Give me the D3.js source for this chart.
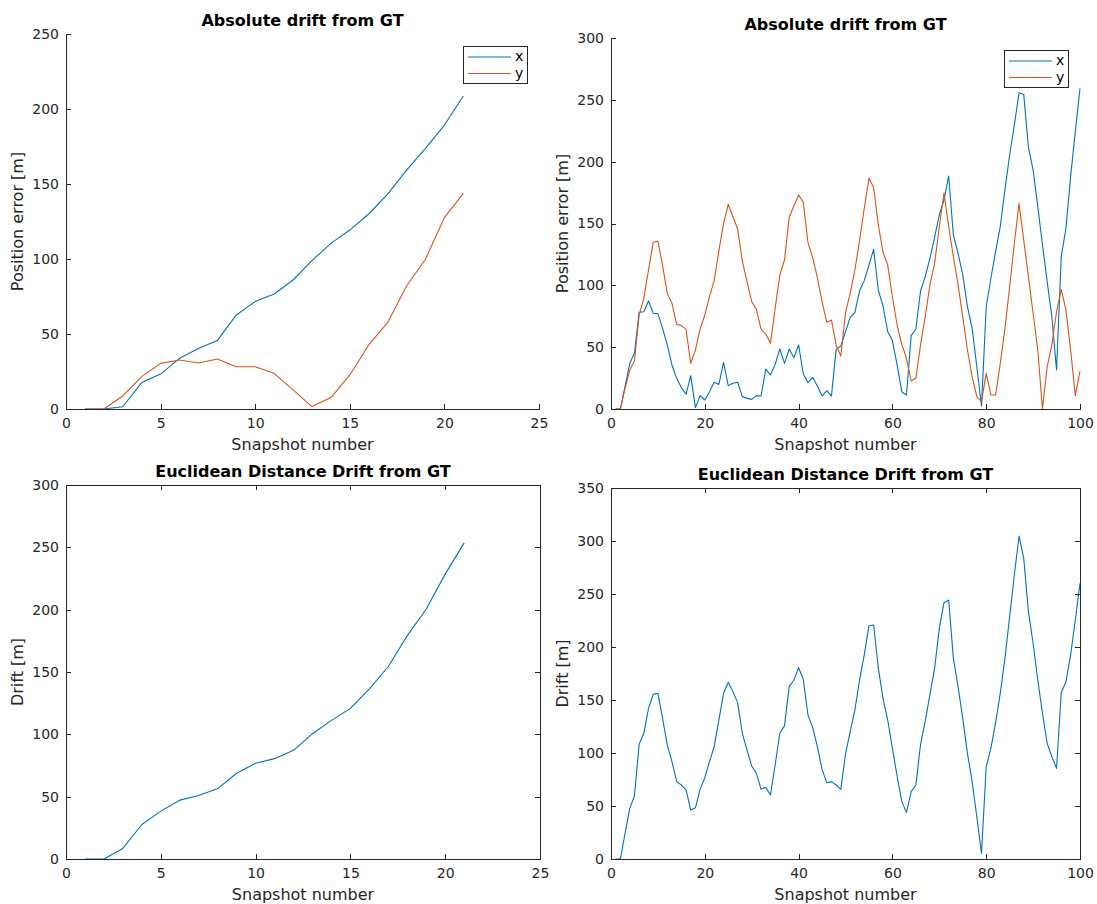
<!DOCTYPE html>
<html>
<head>
<meta charset="utf-8">
<script src="https://cdn.jsdelivr.net/npm/d3@7"></script>
<style>
  html, body { margin: 0; padding: 0; background: #fff; }
  svg { display: block; font-family: "DejaVu Sans", sans-serif; }
</style>
</head>
<body>
<svg id="chart" width="1097" height="904"></svg>
<script>
// ---------------- DATA ----------------
const snapsShort = [1,2,3,4,5,6,7,8,9,10,11,12,13,14,15,16,17,18,19,20,21];
const xShort = [0,0,1.5,17.6,23.3,33.8,40.4,45.6,62.7,71.6,76.7,86,98.9,110.4,119.3,130,143.3,159.3,173.8,189.3,208.7];
const yShort = [0,0,8.7,21.6,30.4,32.7,30.7,33.3,28.2,28.2,23.8,12.7,1.6,7.6,22.7,42.7,57.6,82,99.8,127.6,143.8];
const eShort = [0,0,8.5,27.7,38.4,47.2,50.9,56.5,68.8,76.8,80.5,87.2,100.5,111.2,120.8,136.5,154.4,179.2,200.5,228.5,253.6];

const snapsLong = [1,2,3,4,5,6,7,8,9,10,11,12,13,14,15,16,17,18,19,20,
  21,22,23,24,25,26,27,28,29,30,31,32,33,34,35,36,37,38,39,40,
  41,42,43,44,45,46,47,48,49,50,51,52,53,54,55,56,57,58,59,60,
  61,62,63,64,65,66,67,68,69,70,71,72,73,74,75,76,77,78,79,80,
  81,82,83,84,85,86,87,88,89,90,91,92,93,94,95,96,97,98,99,100];
const xLong = [0,0,18.6,36.9,45,78.2,78.7,87.3,77.4,77.1,65.2,51.8,35.6,24.8,17.3,11.9,27,1.1,10.8,7.3,
  14,21.6,19.9,37.7,18.9,20.8,21.6,10,8.6,7.8,10.8,10.5,32.3,27.5,36.1,48.5,36.9,48.5,41.5,51.8,
  28.3,21.3,25.6,18.6,10.5,14.8,10.5,48.2,50.9,62.5,74.1,77.9,95.4,103.8,116.4,129.1,96.2,83.3,62.5,55.3,
  35.6,14,11.3,59.3,64.7,95.4,107,121.8,138.8,156.9,169,188.4,140.7,125.9,108.4,82.7,65.2,34.2,2.4,82.7,
  105.7,127.2,147.4,177.6,205.4,229.6,255.8,254.4,211.6,193.3,163.6,132.6,103,74.7,31.5,123.2,146.1,187.9,224.3,259.3];
const yLong = [0,0,16.7,31.5,38.8,76,89.5,112.4,134.8,135.8,115.9,93.5,85.4,68.5,67.4,64.4,36.9,47.7,64.7,76,
  90.8,103.8,127.8,150.1,165.5,155.5,145.6,119.7,103,86.8,80.6,64.4,60.6,53.1,81.4,108.4,120.5,155,164.2,173,
  167.1,134.5,122.4,106.2,86.8,70.1,72,51.8,42.9,77.9,93.5,112.4,136.1,162.3,186.5,179.2,148.8,126.7,116.4,90.8,
  67.9,52.3,41,22.6,24.8,51.8,74.7,100.3,117.8,147.4,174.9,147.4,123.2,100.3,74.7,47.7,26.1,10,5.9,28.8,
  11.3,11.3,36.9,65.2,98.9,134,166.3,136.7,107,77.4,47.7,0,34.2,51.8,78.7,96.8,80.1,47.7,10.8,30.7];
const eLong = [0,0,24.2,47.8,59.4,108.2,118.6,142.1,155.3,156.3,132.7,107.5,91.8,73,69.8,65.1,46.2,48.4,65.7,76.7,
  91.8,106,131.1,156.3,166.7,157.9,147.5,118.6,102.8,87.7,80.8,65.7,67.6,60.4,88.7,118.6,125.8,162.6,168.9,180.5,
  169.5,135.8,124.2,106,84.6,72,73,69.8,65.7,99.1,120.1,140.6,168.9,192.5,220.1,220.8,179.9,151.6,131.1,104.4,
  78.3,54.1,44,63.5,69.8,108,130,155,179.9,217.6,241.8,244.3,189.3,162.6,132.7,99.7,73,39.9,5.3,87.1,
  104.4,128.6,156.3,189.3,228.6,267.9,304.7,283.6,233.3,203.5,168.9,137.4,109.1,96.5,85.5,156.9,167.3,192.5,225.5,260];

const xTicksShort = [0,5,10,15,20,25];
const xTicksLong = [0,20,40,60,80,100];
const yTicks250 = [0,50,100,150,200,250];
const yTicks300 = [0,50,100,150,200,250,300];
const yTicks350 = [0,50,100,150,200,250,300,350];

const titleAbs = "Absolute drift from GT";
const titleEuc = "Euclidean Distance Drift from GT";
const xLabelText = "Snapshot number";
const yLabelAbs = "Position error [m]";
const yLabelEuc = "Drift [m]";
const seriesNames = ["x", "y"];

// ---------------- STYLE / LAYOUT ----------------
const BLUE = "#0072BD", RED = "#D95319", AX = "#262626";
const svg = d3.select("#chart");

const panels = [
  { left: 66, right: 539, top: 34, bottom: 409, xMax: 25, yMax: 250, xTicks: xTicksShort, yTicks: yTicks250,
    title: titleAbs, ylab: yLabelAbs, ylabX: 23, box: false,
    series: [{x: snapsShort, y: xShort, c: BLUE}, {x: snapsShort, y: yShort, c: RED}],
    legend: {x: 463, y: 46, w: 64, h: 37} },
  { left: 611, right: 1080, top: 38, bottom: 409, xMax: 100, yMax: 300, xTicks: xTicksLong, yTicks: yTicks300,
    title: titleAbs, ylab: yLabelAbs, ylabX: 568, box: false,
    series: [{x: snapsLong, y: xLong, c: BLUE}, {x: snapsLong, y: yLong, c: RED}],
    legend: {x: 1004, y: 50, w: 64, h: 37} },
  { left: 66, right: 540, top: 485, bottom: 859, xMax: 25, yMax: 300, xTicks: xTicksShort, yTicks: yTicks300,
    title: titleEuc, ylab: yLabelEuc, ylabX: 23, box: true,
    series: [{x: snapsShort, y: eShort, c: BLUE}] },
  { left: 611, right: 1080, top: 488, bottom: 859, xMax: 100, yMax: 350, xTicks: xTicksLong, yTicks: yTicks350,
    title: titleEuc, ylab: yLabelEuc, ylabX: 568, box: true,
    series: [{x: snapsLong, y: eLong, c: BLUE}] }
];

function styleAxis(g, showText) {
  g.selectAll("path.domain").attr("stroke", AX).attr("stroke-width", 1).attr("shape-rendering", "crispEdges");
  g.selectAll(".tick line").attr("stroke", AX).attr("stroke-width", 1).attr("shape-rendering", "crispEdges");
  g.selectAll(".tick text").attr("fill", AX).style("font-size", "14px").style("font-family", "DejaVu Sans, sans-serif");
  if (!showText) g.selectAll(".tick text").remove();
}

panels.forEach(p => {
  const xs = d3.scaleLinear().domain([0, p.xMax]).range([p.left, p.right]);
  const ys = d3.scaleLinear().domain([0, p.yMax]).range([p.bottom, p.top]);

  // lines
  const line = d3.line().x(d => xs(d[0])).y(d => ys(d[1]));
  p.series.forEach(s => {
    const pts = s.x.map((v, i) => [v, s.y[i]]);
    svg.append("path").datum(pts).attr("d", line)
      .attr("fill", "none").attr("stroke", s.c).attr("stroke-width", 1.1).attr("stroke-linejoin", "round");
  });

  // axes
  const gx = svg.append("g").attr("transform", `translate(0,${p.bottom})`)
    .call(d3.axisBottom(xs).tickValues(p.xTicks).tickFormat(d3.format("d")).tickSizeInner(-5).tickSizeOuter(0).tickPadding(9));
  styleAxis(gx, true);
  const gy = svg.append("g").attr("transform", `translate(${p.left},0)`)
    .call(d3.axisLeft(ys).tickValues(p.yTicks).tickFormat(d3.format("d")).tickSizeInner(-5).tickSizeOuter(0).tickPadding(7));
  styleAxis(gy, true);
  if (p.box) {
    const gt = svg.append("g").attr("transform", `translate(0,${p.top})`)
      .call(d3.axisTop(xs).tickValues(p.xTicks).tickSizeInner(-5).tickSizeOuter(0));
    styleAxis(gt, false);
    const gr = svg.append("g").attr("transform", `translate(${p.right},0)`)
      .call(d3.axisRight(ys).tickValues(p.yTicks).tickSizeInner(-5).tickSizeOuter(0));
    styleAxis(gr, false);
  }

  // title
  svg.append("text").attr("x", (p.left + p.right) / 2).attr("y", p.top - 8)
    .attr("text-anchor", "middle").attr("font-weight", "bold").attr("font-size", 16).attr("fill", "#000")
    .text(p.title);
  // x label
  svg.append("text").attr("x", (p.left + p.right) / 2).attr("y", p.bottom + 41)
    .attr("text-anchor", "middle").attr("font-size", 16).attr("fill", AX).text(xLabelText);
  // y label
  svg.append("text").attr("transform", `translate(${p.ylabX},${(p.top + p.bottom) / 2}) rotate(-90)`)
    .attr("text-anchor", "middle").attr("font-size", 16).attr("fill", AX).text(p.ylab);

  // legend
  if (p.legend) {
    const L = p.legend;
    const lg = svg.append("g").attr("transform", `translate(${L.x},${L.y})`);
    lg.append("rect").attr("x", 0.5).attr("y", 0.5).attr("width", L.w).attr("height", L.h)
      .attr("fill", "#fff").attr("stroke", AX).attr("stroke-width", 1);
    p.series.forEach((s, i) => {
      const yy = 11 + i * 16.5;
      lg.append("line").attr("x1", 5).attr("x2", 48).attr("y1", yy).attr("y2", yy)
        .attr("stroke", s.c).attr("stroke-width", 1.1);
      lg.append("text").attr("x", 52).attr("y", yy).attr("dy", "0.32em")
        .attr("font-size", 14).attr("fill", "#000").text(seriesNames[i]);
    });
  }
});
</script>
</body>
</html>
